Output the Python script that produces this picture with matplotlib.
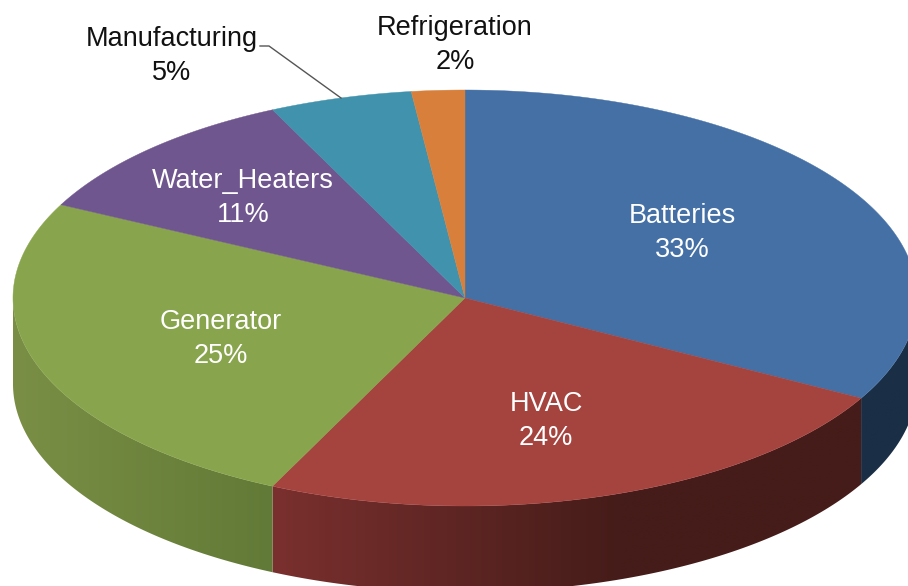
#! /usr/bin/python3

import numpy as np
import matplotlib
matplotlib.use('Agg')
import matplotlib.pyplot as plt
from matplotlib.colors import to_rgb
from matplotlib.patches import Polygon

names  = ['Batteries', 'HVAC', 'Generator', 'Water_Heaters', 'Manufacturing', 'Refrigeration']
shares = [33.0, 24.0, 25.4, 10.6, 5.1, 1.9]

top_colors = ['#4470A5', '#A5433F', '#88A44C', '#70568E', '#4092AD', '#D8803B']

# side wall shading: colours across the wall, left to right
side_colors = {
    'Batteries': ['#1A2E46', '#1A2E46'],
    'HVAC': ['#7A302E', '#451C19', '#451C19'],
    'Generator': ['#7A8F45', '#627A37'],
}
side_stops = {
    'Batteries': [862, 908],
    'HVAC': [272, 620, 862],
    'Generator': [13, 272],
}

label_pos = [(682, 233), (546, 421), (221, 339), (243, 198), (172, 56), (455, 45)]
label_colors = ['white', 'white', 'white', 'white', '#111111', '#111111']

CX, CY = 465, 298
RX, RY = 452, 208
DEPTH = 86


def rim(angle):
    # angle in degrees, clockwise from 12 o'clock
    a = np.radians(angle)
    return CX + RX * np.sin(a), CY - RY * np.cos(a)


def draw_side(ax, name, start, end):
    # only the front half of the wall can be seen
    start = max(start, 90)
    end = min(end, 270)
    if end <= start:
        return
    xs, ys = rim(np.linspace(start, end, 200))
    outline = np.column_stack([np.r_[xs, xs[::-1]], np.r_[ys, ys[::-1] + DEPTH]])

    x_grid = np.arange(xs.min() - 1, xs.max() + 2)
    rgb = np.array([to_rgb(c) for c in side_colors[name]])
    grad = np.stack([np.interp(x_grid, side_stops[name], rgb[:, k]) for k in range(3)], axis=-1)
    top, bottom = ys.min() - 1, ys.max() + DEPTH + 1
    img = ax.imshow(grad[np.newaxis, :, :], extent=(x_grid[0], x_grid[-1], bottom, top),
                    aspect='auto', interpolation='bilinear', zorder=1)
    patch = Polygon(outline, closed=True, transform=ax.transData, facecolor='none', edgecolor='none')
    ax.add_patch(patch)
    img.set_clip_path(patch)


def main():
    fig = plt.figure(figsize=(9.08, 5.86), dpi=100)
    ax = fig.add_axes([0, 0, 1, 1])

    edges = np.concatenate([[0], np.cumsum(shares)]) * 3.6

    for i, name in enumerate(names):
        if name in side_colors:
            draw_side(ax, name, edges[i], edges[i + 1])

    for i, name in enumerate(names):
        ang = np.linspace(edges[i], edges[i + 1], 200)
        xs, ys = rim(ang)
        ax.fill(np.r_[CX, xs], np.r_[CY, ys], color=top_colors[i],
                linewidth=0.3, zorder=2)

    for i, name in enumerate(names):
        ax.text(label_pos[i][0], label_pos[i][1], '%s\n%.0f%%' % (name, shares[i]),
                color=label_colors[i], ha='center', va='center',
                fontsize=19.5, family='Liberation Sans', linespacing=1.4, zorder=4)

    # leader line for Manufacturing
    ax.plot([260, 269, 341], [46, 46, 98], color='#555555', linewidth=1, zorder=3)

    ax.set_xlim(0, 908)
    ax.set_ylim(586, 0)
    ax.axis('off')

    fig.savefig('out.png', dpi=100)


if __name__ == '__main__':
    main()
